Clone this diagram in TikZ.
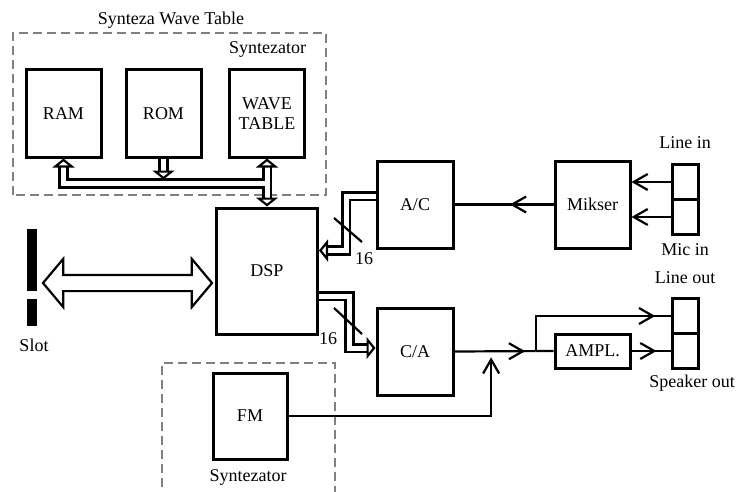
\documentclass[tikz,border=0pt]{standalone}
\usepackage{fontspec}
\setmainfont{Liberation Serif}
\usetikzlibrary{shapes, arrows, arrows.meta, calc, decorations.markings}

\begin{document}
\begin{tikzpicture}[x=10pt, y=10pt, >={Straight Barb[length=14pt, width=16pt]},
    font=\rmfamily\fontsize{18}{20}\selectfont,
    blk/.style={draw, line width=3pt, inner sep=0pt, align=center, minimum width=75pt, minimum height=87pt},
    jack/.style={draw, line width=3pt, inner sep=0pt, minimum width=26pt, minimum height=35pt},
    sig/.style={line width=2.2pt},
    bus/.style={double, double distance=5pt, line width=2.6pt},
    hd/.tip={Triangle[length=9pt, width=22pt, fill=white, line width=2.2pt, line join=miter]},
    midarrow/.style={postaction={decorate}, decoration={markings, mark=at position #1 with {\arrow{>}}}},
    syn/.style={draw=gray, line width=1.2pt, dash pattern=on 9pt off 5pt}]

  \useasboundingbox (0,0) rectangle (74.9,49.1);

  % wave table synth
  \draw[syn] (1.3,29.6) rectangle (32.6,45.8);
  \node at (17.1,47.1) {Synteza Wave Table};
  \node at (26.75,44.2) {Syntezator};
  \node[blk] (RAM) at (6.35,37.75) {RAM};
  \node[blk] (ROM) at (16.35,37.75) {ROM};
  \node[blk] (WAVE) at (26.7,37.75) {WAVE\\TABLE};

  % fm synth
  \draw[syn] (16.2,-1) |- (33.5,12.8) -- (33.5,-1);
  \node[blk, minimum width=74pt, minimum height=86pt] (FM) at (25.0,7.5) {FM};
  \node at (24.8,1.4) {Syntezator};

  \node[blk, minimum width=101pt, minimum height=126pt] (DSP) at (26.7,22.0) {DSP};
  \node[blk, minimum width=76pt] (AC) at (41.5,28.65) {A/C};
  \node[blk, minimum width=76pt] (CA) at (41.5,13.95) {C/A};
  \node[blk] (MIX) at (59.25,28.65) {Mikser};
  \node[blk, minimum height=34pt] (AMPL) at (59.25,14.0) {AMPL.};

  % jacks
  \node[jack] (LIN) at (68.5,30.9) {};
  \node[jack] (MIC) at (68.5,27.4) {};
  \node[jack] (LOUT) at (68.5,17.5) {};
  \node[jack] (SPK) at (68.5,14.0) {};
  \node at (68.5,34.8) {Line in};
  \node at (68.5,24.1) {Mic in};
  \node at (68.5,21.3) {Line out};
  \node at (69.2,10.8) {Speaker out};

  % slot
  \node[fill, inner sep=0pt, minimum width=10pt, minimum height=62pt] (SLOT) at (3.2,23.1) {};
  \node[fill, inner sep=0pt, minimum width=10pt, minimum height=27pt] (SLOTB) at (3.2,17.85) {};
  \node at (3.4,14.6) {Slot};
  \node[draw, double arrow, line width=2.2pt, inner sep=7pt, minimum height=169pt,
        double arrow head extend=16pt, double arrow tip angle=100] (PCI) at (12.75,20.8) {};

  % analog path
  \draw[sig, midarrow=0.44] (MIX.west) -- (AC.east);
  \draw[sig, ->] (LIN.west) -- (LIN.west -| MIX.east);
  \draw[sig, ->] (MIC.west) -- (MIC.west -| MIX.east);
  \coordinate (sum) at ($(CA.east)!0.37!(AMPL.west)$);
  \coordinate (split) at ($(CA.east)!0.82!(AMPL.west)$);
  \draw[sig, midarrow=0.87] (CA.east) -- (split);
  \draw[sig] (split) -- (AMPL.west);
  \draw[sig, midarrow=0.91] (split) |- (LOUT.west);
  \draw[sig, midarrow=0.64] (AMPL.east) -- (SPK.west);
  \draw[sig, ->] (FM.east) -| ([yshift=-6pt]sum);

  % data buses
  \coordinate (bj) at ([yshift=-25pt]WAVE.south);
  \draw[bus, hd-] (RAM.south) |- (bj);
  \draw[bus, -hd] (ROM.south) -- ([yshift=4pt]ROM.south |- bj);
  \draw[bus, hd-hd] (WAVE.south) -- (DSP.north);
  \draw[white, line width=5pt] (bj) -- ++(-1.2,0);

  \draw[bus, -hd] ([yshift=8.5pt]AC.west) -- ++(-2.95,0) |- ([yshift=20.5pt]DSP.east);
  \draw[bus, -hd] ([yshift=-25pt]DSP.east) -- ++(3.05,0) |- ([yshift=3.5pt]CA.west);
  \draw[sig] (33.4,27.3) -- (36.2,24.9);
  \node at (36.4,23.2) {16};
  \draw[sig] (33.4,18.3) -- (36.2,15.7);
  \node at (32.8,15.2) {16};

\end{tikzpicture}
\end{document}
